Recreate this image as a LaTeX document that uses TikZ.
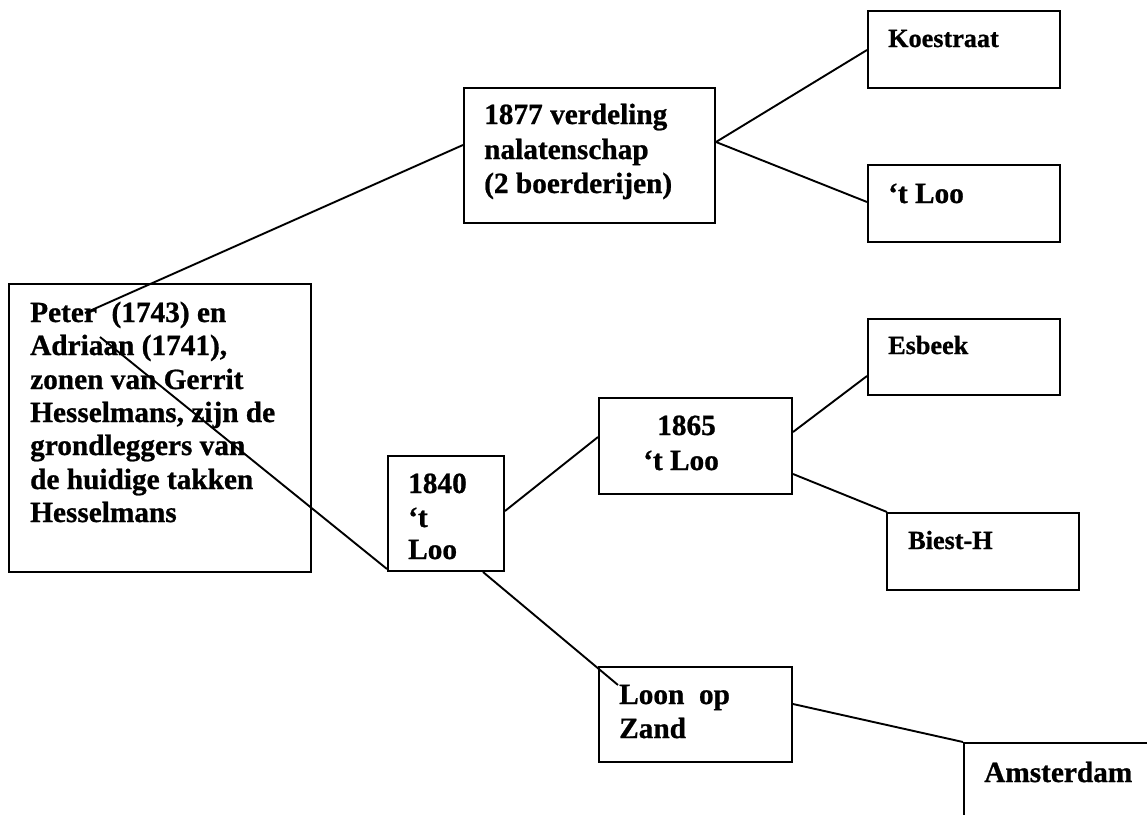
\documentclass[tikz,border=0pt]{standalone}
\usepackage{fontspec}
\setmainfont{Liberation Serif}[BoldFeatures={FakeBold=0.8}]
\usetikzlibrary{calc}
\newcommand\bigtxt{\fontsize{29.3pt}{34pt}\selectfont\bfseries}
\newcommand\smalltxt{\fontsize{26.2pt}{31pt}\selectfont\bfseries}
\begin{document}
\begin{tikzpicture}[x=1pt,y=-1pt,
  box/.style={draw,line width=2pt,rectangle,inner sep=0pt,anchor=north west},
  big/.style={inner sep=0pt,anchor=base west,font=\bigtxt},
  small/.style={inner sep=0pt,anchor=base west,font=\smalltxt},
  link/.style={line width=1.9pt}]
\useasboundingbox (0,0) rectangle (1147,814);
\fill[white] (0,0) rectangle (1147,814);
\clip (0,0) rectangle (1147,814);
% boxes
\node[box,minimum width=302,minimum height=288] (peter) at (8,283) {};
\node[box,minimum width=251,minimum height=135] (verd) at (463,87) {};
\node[box,minimum width=192,minimum height=77] (koe) at (867,10) {};
\node[box,minimum width=192,minimum height=77] (loo1) at (867,164) {};
\node[box,minimum width=192,minimum height=76] (esb) at (867,318) {};
\node[box,minimum width=193,minimum height=96] (y1865) at (598,397) {};
\node[box,minimum width=192,minimum height=77] (biest) at (886,512) {};
\node[box,minimum width=116,minimum height=115] (y1840) at (387,455) {};
\node[box,minimum width=193,minimum height=95] (loon) at (598,666) {};
\node[box,minimum width=240,minimum height=120] (ams) at (963,742) {};
% texts
\node[big] (pt1) at (30,322) {Peter\ \ (1743) en};
\node[big] (pt2) at (30,355) {Adriaan (1741),};
\node[big] (pt3) at (30,389) {zonen van Gerrit};
\node[big] (pt4) at (30,422) {Hesselmans, zijn de};
\node[big] (pt5) at (30,455) {grondleggers van};
\node[big] (pt6) at (30,489) {de huidige takken};
\node[big] (pt7) at (30,522) {Hesselmans};
\node[big] (vt1) at (484,124) {1877 verdeling};
\node[big] (vt2) at (484,159) {nalatenschap};
\node[big] (vt3) at (484,193) {(2 boerderijen)};
\node[small] (kt) at (888,47) {Koestraat};
\node[big] (lt1) at (888,203) {‘t Loo};
\node[small] (et) at (888,354) {Esbeek};
\node[big] (ya) at (657,435) {1865};
\node[big] (yb) at (643,470) {‘t Loo};
\node[small] (bt) at (908,549) {Biest-H};
\node[big] (za) at (408,493) {1840};
\node[big] (zb) at (408,527) {‘t};
\node[big] (zc) at (408,559) {Loo};
\node[big] (la) at (619,704) {Loon\ \ op};
\node[big] (lb) at (619,738) {Zand};
\node[big] (at) at (984,782) {Amsterdam};
% connector ends inside the texts
\coordinate (pA) at (85,313);
\coordinate (pB) at (100,337);
\coordinate (lA) at (618,685);
% connectors
\draw[link] (pA) -- ($(verd.north west)+(0,58)$);
\draw[link] (pB) -- ($(y1840.south west)+(0,-3)$);
\draw[link] ($(verd.north east)+(0,55)$) -- ($(koe.north west)+(0,40)$);
\draw[link] ($(verd.north east)+(0,55)$) -- ($(loo1.north west)+(0,38)$);
\draw[link] ($(y1840.north east)+(0,56)$) -- ($(y1865.north west)+(0,40)$);
\draw[link] ($(y1865.north east)+(0,35)$) -- ($(esb.north west)+(0,58)$);
\draw[link] ($(y1865.north east)+(0,77)$) -- ($(biest.north west)+(1,0)$);
\draw[link] ($(y1840.south west)+(96,0)$) -- (lA);
\draw[link] ($(loon.north east)+(0,38)$) -- (ams.north west);
\end{tikzpicture}
\end{document}
